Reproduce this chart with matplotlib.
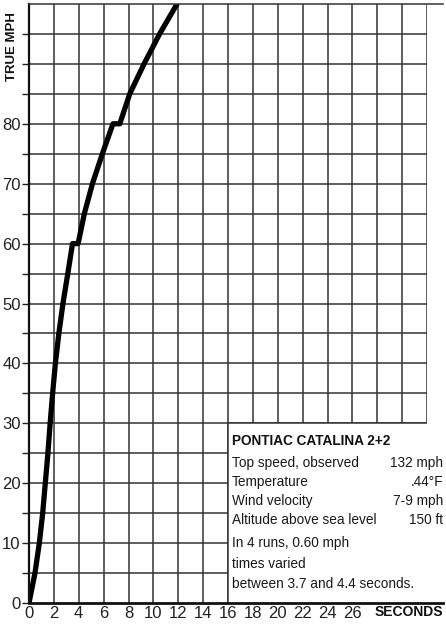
import matplotlib
matplotlib.use("Agg")
import matplotlib.pyplot as plt
from matplotlib.patches import Rectangle

# ---- data ----
seconds = [0, 0.48, 0.83, 1.1, 1.31, 1.52, 1.7, 1.9, 2.12, 2.4, 2.73, 3.12, 3.5, 3.95,
           4.45, 5.1, 5.9, 6.75, 7.3, 8.1, 9.25, 10.5, 11.9]
mph = [0, 5, 10, 15, 20, 25, 30, 35, 40, 45, 50, 55, 60, 60,
       65, 70, 75, 80, 80, 85, 90, 95, 100]
x_ticks = [0, 2, 4, 6, 8, 10, 12, 14, 16, 18, 20, 22, 24, 26]
y_ticks = [0, 10, 20, 30, 40, 50, 60, 70, 80]
title = "PONTIAC CATALINA 2+2"
info_rows = [("Top speed, observed", "132 mph"),
             ("Temperature", ".44°F"),
             ("Wind velocity", "7-9 mph"),
             ("Altitude above sea level", "150 ft")]
notes = ["In 4 runs, 0.60 mph", "times varied", "between 3.7 and 4.4 seconds."]

FONT = ["Liberation Sans Narrow", "Liberation Sans", "DejaVu Sans"]
plt.rcParams['font.family'] = FONT

fig = plt.figure(figsize=(4.46, 6.26), dpi=100)
W, H = 446, 626
x0, x1 = 29, 427
y0, y1 = 603, 4
ax = fig.add_axes([x0 / W, 1 - y0 / H, (x1 - x0) / W, (y0 - y1) / H])
ax.set_xlim(0, 32)
ax.set_ylim(0, 100)

gc = "#333333"
for xv in range(2, 33, 2):
    ax.axvline(xv, color=gc, lw=1.1, zorder=1)
for yv in range(5, 100, 5):
    ax.axhline(yv, color=gc, lw=1.1, zorder=1)

# info box covering the grid
ax.add_patch(Rectangle((16, 0), 17.5, 30, facecolor="white", edgecolor="none", zorder=1.5, clip_on=False))
ax.plot([16, 16], [0, 30], color=gc, lw=1.1, zorder=1.6)
ax.plot([16, 32], [30, 30], color=gc, lw=1.1, zorder=1.6)

ax.plot(seconds, mph, color="black", lw=3.8, solid_capstyle="round",
        solid_joinstyle="round", zorder=3)

for s in ["top", "right", "bottom", "left"]:
    ax.spines[s].set_visible(False)
# axes lines
ax.plot([0, 0], [0, 100], color="#111", lw=1.6, zorder=4, clip_on=False)
ax.plot([0, 33.3], [0, 0], color="#111", lw=2.0, zorder=4, clip_on=False)
ax.plot([0, 33.3], [100, 100], color=gc, lw=1.1, zorder=4, clip_on=False)

ax.set_yticks(list(range(0, 100, 5)))
ax.set_yticklabels([str(v) if v in y_ticks else "" for v in range(0, 100, 5)])
ax.set_xticks(x_ticks)
ax.set_xticklabels([str(v) for v in x_ticks])
ax.tick_params(axis="y", length=5, width=1, color="#222", pad=1, labelsize=12, labelcolor="#222")
ax.tick_params(axis="x", length=0, pad=2, labelsize=12, labelcolor="#222")

fig.text(12 / W, 1 - 47 / H, "TRUE MPH", rotation=90, ha="center", va="center",
         fontsize=9.5, fontweight="bold", color="#111")
fig.text(443 / W, 1 - 612 / H, "SECONDS", ha="right", va="center",
         fontsize=10, fontweight="bold", color="#111")

def fy(py):
    return 1 - py / H

fig.text(232 / W, fy(441), title, ha="left", va="center", fontsize=9.8,
         fontweight="bold", color="#111")
row_y = [463, 482, 501, 520]
for (lab, val), py in zip(info_rows, row_y):
    fig.text(232 / W, fy(py), lab, ha="left", va="center", fontsize=9.8, color="#1a1a1a")
    fig.text(443 / W, fy(py), val, ha="right", va="center", fontsize=9.8, color="#1a1a1a")
for t, py in zip(notes, [543, 564, 584]):
    fig.text(232 / W, fy(py), t, ha="left", va="center", fontsize=9.8, color="#1a1a1a")

fig.savefig("out.png", dpi=100, facecolor="white")
